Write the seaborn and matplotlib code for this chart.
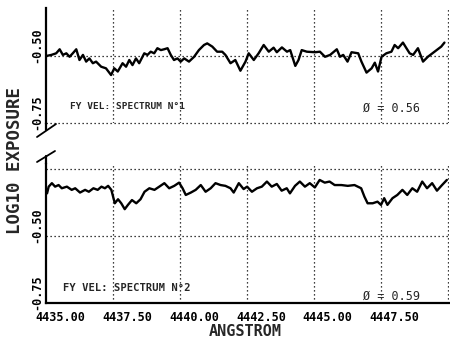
import matplotlib
matplotlib.use("Agg")
import matplotlib.pyplot as plt
import seaborn as sns
import numpy as np
from matplotlib.transforms import ScaledTranslation
from matplotlib.lines import Line2D

# ---- data -------------------------------------------------------------
wl1 = [4435.01, 4435.20, 4435.38, 4435.51, 4435.63, 4435.76, 4435.88, 4436.00, 4436.13, 4436.25,
       4436.38, 4436.50, 4436.62, 4436.75, 4436.87, 4437.06, 4437.24, 4437.43, 4437.55, 4437.68,
       4437.86, 4437.99, 4438.11, 4438.23, 4438.36, 4438.48, 4438.67, 4438.79, 4438.91, 4439.04,
       4439.16, 4439.29, 4439.41, 4439.54, 4439.66, 4439.78, 4439.91, 4440.03, 4440.16, 4440.34,
       4440.53, 4440.71, 4440.90, 4441.02, 4441.21, 4441.39, 4441.58, 4441.70, 4441.89, 4442.07,
       4442.26, 4442.45, 4442.57, 4442.76, 4442.94, 4443.13, 4443.32, 4443.50, 4443.62, 4443.81,
       4444.00, 4444.12, 4444.31, 4444.43, 4444.55, 4444.74, 4445.05, 4445.23, 4445.42, 4445.61,
       4445.86, 4445.98, 4446.10, 4446.26, 4446.41, 4446.66, 4446.78, 4446.97, 4447.16, 4447.28,
       4447.40, 4447.53, 4447.71, 4447.90, 4448.02, 4448.15, 4448.33, 4448.46, 4448.58, 4448.71,
       4448.89, 4449.08, 4449.26, 4449.51, 4449.76, 4449.88]
exp1 = [-0.500, -0.496, -0.490, -0.475, -0.496, -0.490, -0.503, -0.490, -0.475, -0.515,
        -0.496, -0.521, -0.509, -0.527, -0.521, -0.540, -0.546, -0.571, -0.546, -0.558,
        -0.527, -0.540, -0.515, -0.534, -0.509, -0.527, -0.490, -0.496, -0.484, -0.490,
        -0.471, -0.478, -0.475, -0.471, -0.496, -0.515, -0.509, -0.521, -0.509, -0.521,
        -0.503, -0.478, -0.459, -0.453, -0.465, -0.484, -0.484, -0.496, -0.527, -0.515,
        -0.555, -0.521, -0.490, -0.515, -0.490, -0.459, -0.484, -0.469, -0.486, -0.468,
        -0.484, -0.478, -0.537, -0.515, -0.478, -0.484, -0.486, -0.484, -0.503, -0.496,
        -0.475, -0.503, -0.496, -0.521, -0.486, -0.490, -0.521, -0.562, -0.546, -0.525,
        -0.558, -0.503, -0.490, -0.484, -0.459, -0.471, -0.450, -0.471, -0.490, -0.496,
        -0.471, -0.521, -0.503, -0.484, -0.465, -0.450]

wl2 = [4435.04, 4435.10, 4435.22, 4435.34, 4435.47, 4435.59, 4435.78, 4435.96, 4436.09, 4436.27,
       4436.46, 4436.60, 4436.77, 4436.93, 4437.07, 4437.20, 4437.32, 4437.44, 4437.57, 4437.69,
       4437.81, 4437.94, 4438.06, 4438.21, 4438.37, 4438.53, 4438.68, 4438.86, 4439.05, 4439.23,
       4439.42, 4439.60, 4439.79, 4439.97, 4440.10, 4440.22, 4440.41, 4440.59, 4440.78, 4440.96,
       4441.15, 4441.33, 4441.52, 4441.70, 4441.89, 4442.01, 4442.20, 4442.38, 4442.51, 4442.69,
       4442.88, 4443.06, 4443.25, 4443.43, 4443.62, 4443.80, 4443.99, 4444.11, 4444.30, 4444.48,
       4444.67, 4444.85, 4445.04, 4445.22, 4445.41, 4445.59, 4445.78, 4446.03, 4446.27, 4446.52,
       4446.77, 4446.89, 4447.01, 4447.20, 4447.38, 4447.51, 4447.63, 4447.75, 4447.94, 4448.12,
       4448.31, 4448.49, 4448.68, 4448.86, 4449.05, 4449.23, 4449.42, 4449.60, 4449.79, 4449.97]
exp2 = [-0.341, -0.316, -0.303, -0.316, -0.310, -0.322, -0.316, -0.328, -0.322, -0.338,
        -0.328, -0.335, -0.322, -0.328, -0.316, -0.322, -0.313, -0.328, -0.378, -0.363,
        -0.378, -0.400, -0.384, -0.366, -0.378, -0.363, -0.335, -0.322, -0.328, -0.316,
        -0.303, -0.322, -0.313, -0.301, -0.322, -0.347, -0.338, -0.328, -0.310, -0.335,
        -0.322, -0.303, -0.310, -0.313, -0.322, -0.338, -0.303, -0.325, -0.316, -0.335,
        -0.322, -0.316, -0.297, -0.316, -0.306, -0.331, -0.322, -0.341, -0.313, -0.297,
        -0.316, -0.303, -0.319, -0.291, -0.301, -0.297, -0.310, -0.310, -0.313, -0.310,
        -0.322, -0.353, -0.378, -0.378, -0.372, -0.384, -0.359, -0.384, -0.359, -0.347,
        -0.328, -0.347, -0.322, -0.335, -0.297, -0.322, -0.303, -0.331, -0.310, -0.291]

xticks = [4435.0, 4437.5, 4440.0, 4442.5, 4445.0, 4447.5]
xtick_labels = ["4435.00", "4437.50", "4440.00", "4442.50", "4445.00", "4447.50"]
xgrid = [4437.5, 4440.0, 4442.5, 4445.0, 4447.5, 4450.0]
yticks = [-0.75, -0.50]
ytick_labels = ["-0.75", "-0.50"]
panel_titles = ["FY VEL: SPECTRUM N°1", "FY VEL: SPECTRUM N°2"]
theta_labels = ["Ø = 0.56", "Ø = 0.59"]
xlabel = "ANGSTROM"
ylabel = "LOG10 EXPOSURE"

# ---- style ------------------------------------------------------------
sns.set_style("white")
plt.rcParams["font.family"] = ["DejaVu Sans Mono", "DejaVu Sans"]
plt.rcParams["font.weight"] = "bold"

W, H = 450, 339
fig = plt.figure(figsize=(W / 100, H / 100), dpi=100)
fig.patch.set_facecolor("white")

def fx(px):
    return px / W

def fy(py):
    return 1 - py / H

L, R = 46, 449
ax1 = fig.add_axes([fx(L), fy(123), fx(R - L), fy(8) - fy(123)])
ax2 = fig.add_axes([fx(L), fy(303), fx(R - L), fy(163.6) - fy(303)])

dot = (0, (1, 2.2))
for ax, wl, ex, ylim in [(ax1, wl1, exp1, (-0.75, -0.321)), (ax2, wl2, exp2, (-0.75, -0.23))]:
    ax.set_facecolor("white")
    sns.lineplot(x=wl, y=ex, ax=ax, color="black", lw=1.7, estimator=None, sort=True)
    ax.set_xlim(4435.0, 4450.05)
    ax.set_ylim(*ylim)
    for g in xgrid:
        ax.axvline(g, color="black", lw=0.9, ls=dot, zorder=1)
    for sp in ["top", "right"]:
        ax.spines[sp].set_visible(False)
    ax.spines["left"].set_linewidth(1.6)
    ax.spines["left"].set_color("black")
    ax.set_yticks(yticks)
    ax.set_yticklabels(ytick_labels)
    ax.tick_params(axis="y", direction="out", length=3, width=1.2, pad=4,
                   labelsize=8.5, colors="black")
    for lab in ax.get_yticklabels():
        lab.set_rotation(90)
        lab.set_rotation_mode("anchor")
        lab.set_ha("left")
        lab.set_va("center")
        lab.set_fontweight("bold")
        lab.set_transform(lab.get_transform() + ScaledTranslation(0, -7 / 100, fig.dpi_scale_trans))
    ax.set_xlabel("")
    ax.set_ylabel("")

# top panel specifics
ax1.axhline(-0.50, color="black", lw=0.9, ls=dot, zorder=1)
ax1.axhline(-0.75, color="black", lw=0.9, ls=dot, zorder=1, clip_on=False)
ax1.spines["bottom"].set_visible(False)
ax1.set_xticks([])

# bottom panel specifics
ax2.axhline(-0.50, color="black", lw=0.9, ls=dot, zorder=1)
ax2.axhline(-0.25, color="black", lw=0.9, ls=dot, zorder=1)
ax2.spines["bottom"].set_linewidth(1.6)
ax2.spines["bottom"].set_color("black")
ax2.set_xticks(xticks)
ax2.set_xticklabels(xtick_labels)
ax2.tick_params(axis="x", direction="inout", length=6, width=1.2, pad=3,
                labelsize=8.5, colors="black")
for lab in ax2.get_xticklabels():
    lab.set_fontweight("bold")
    lab.set_transform(lab.get_transform() + ScaledTranslation(14 / 100, 0, fig.dpi_scale_trans))

# annotations
ax1.text(fx(70 - L) / fx(R - L), 0.14, panel_titles[0], transform=ax1.transAxes,
         fontsize=6.8, fontweight="bold", ha="left", va="center")
ax1.text(fx(363 - L) / fx(R - L), 0.13, theta_labels[0], transform=ax1.transAxes,
         fontsize=8.5, fontweight="normal", ha="left", va="center")
ax2.text(fx(63 - L) / fx(R - L), 0.11, panel_titles[1], transform=ax2.transAxes,
         fontsize=7.6, fontweight="bold", ha="left", va="center")
ax2.text(fx(363 - L) / fx(R - L), 0.045, theta_labels[1], transform=ax2.transAxes,
         fontsize=8.5, fontweight="normal", ha="left", va="center")

fig.text(fx(245), fy(331), xlabel, fontsize=11, fontweight="bold", ha="center", va="center")
fig.text(fx(15), fy(160), ylabel, fontsize=12.5, fontweight="bold", ha="center", va="center",
         rotation=90)

# axis-break slashes
for (x0, y0, x1, y1) in [(37, 137, 56, 124), (37, 162, 55, 151)]:
    fig.add_artist(Line2D([fx(x0), fx(x1)], [fy(y0), fy(y1)], color="black", lw=1.3,
                          transform=fig.transFigure))
# connect left spines to slashes
fig.add_artist(Line2D([fx(L), fx(L)], [fy(123), fy(130)], color="black", lw=1.6,
                      transform=fig.transFigure))
fig.add_artist(Line2D([fx(L), fx(L)], [fy(156), fy(164)], color="black", lw=1.6,
                      transform=fig.transFigure))

fig.savefig("out.png", dpi=100, facecolor="white")
